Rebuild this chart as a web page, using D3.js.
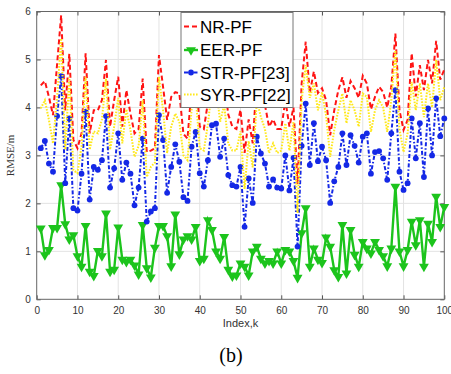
<!DOCTYPE html>
<html>
<head>
<meta charset="utf-8">
<script src="https://cdn.jsdelivr.net/npm/d3@7"></script>
<style>
  body { margin: 0; background: #fff; }
  svg { display: block; }
</style>
</head>
<body>
<div id="chart"></div>
<script>
// values, index k = 1..100
const index = d3.range(1, 101);

const nrPF = [4.46, 4.55, 4.22, 3.84, 4.90, 5.92, 3.94, 5.12, 3.32, 3.15,
  3.46, 5.13, 3.46, 3.94, 3.94, 4.15, 4.99, 3.60, 4.15, 4.64,
  3.60, 4.36, 3.87, 3.46, 3.55, 4.60, 3.07, 3.10, 3.15, 5.09,
  4.43, 3.74, 4.22, 4.32, 4.29, 3.45, 3.35, 4.40, 4.70, 3.60,
  3.55, 4.10, 4.85, 4.90, 4.20, 4.55, 3.85, 3.60, 3.55, 3.95,
  3.05, 3.75, 3.25, 4.60, 4.25, 4.05, 3.60, 3.75, 3.55, 3.55,
  4.15, 3.60, 4.00, 2.40, 4.50, 5.37, 4.30, 4.75, 4.30, 4.40,
  4.15, 3.42, 3.94, 4.36, 4.63, 4.20, 4.55, 4.40, 4.20, 4.66,
  4.50, 3.96, 4.22, 4.43, 4.32, 4.00, 4.43, 5.54, 3.94, 3.53,
  3.74, 5.13, 4.23, 4.88, 4.36, 4.99, 4.50, 5.39, 4.58, 4.79];

const eerPF = [1.48, 0.92, 1.03, 1.49, 1.49, 2.38, 1.57, 1.25, 1.34, 0.90,
  0.68, 1.53, 0.58, 0.49, 1.01, 0.90, 1.79, 0.58, 0.62, 1.50,
  0.83, 0.78, 0.83, 0.71, 0.52, 1.55, 0.65, 0.46, 1.08, 1.53,
  1.53, 1.32, 0.69, 1.77, 0.94, 1.25, 1.32, 1.25, 1.51, 0.80,
  0.85, 1.65, 1.45, 1.00, 0.85, 1.30, 0.62, 0.48, 0.50, 0.75,
  0.68, 0.50, 1.00, 1.10, 0.85, 0.75, 0.80, 0.75, 1.00, 0.75,
  1.03, 1.00, 0.80, 0.45, 1.38, 1.90, 0.68, 1.06, 0.83, 0.76,
  1.29, 1.10, 0.61, 0.47, 1.55, 0.54, 1.45, 0.93, 0.68, 1.20,
  1.06, 0.96, 1.20, 1.03, 0.90, 0.69, 1.06, 2.35, 1.00, 0.69,
  1.03, 1.62, 1.13, 1.65, 0.68, 1.58, 1.20, 2.14, 1.51, 1.93];

const strPF = [3.15, 3.30, 2.83, 2.66, 3.82, 4.65, 2.42, 3.77, 1.90, 1.85,
  2.62, 3.91, 2.08, 2.76, 2.70, 2.90, 3.82, 2.33, 2.73, 3.46,
  2.49, 2.85, 2.62, 1.96, 2.33, 3.35, 1.62, 1.83, 1.90, 3.84,
  3.32, 2.22, 2.76, 3.23, 2.87, 2.13, 2.05, 3.18, 3.49, 2.63,
  2.35, 2.90, 3.63, 3.66, 2.97, 3.35, 2.59, 2.38, 2.35, 2.76,
  1.51, 2.52, 2.01, 3.39, 3.04, 2.83, 2.35, 2.50, 2.33, 2.31,
  3.00, 2.27, 2.95, 1.10, 3.20, 4.08, 2.80, 3.67, 2.88, 3.18,
  2.90, 2.01, 2.46, 2.76, 3.46, 2.80, 3.42, 3.20, 2.85, 3.39,
  3.46, 2.62, 3.07, 3.09, 2.94, 2.49, 3.46, 4.36, 2.66, 2.28,
  2.42, 3.77, 2.94, 3.67, 2.55, 3.98, 3.00, 4.19, 3.40, 3.77];

const syrPF = [3.98, 4.15, 3.74, 3.25, 4.20, 5.44, 3.12, 4.64, 2.69, 2.63,
  3.19, 4.64, 3.12, 3.50, 3.46, 3.75, 4.60, 3.12, 3.60, 4.20,
  3.25, 3.96, 3.53, 2.97, 3.20, 4.15, 2.55, 2.76, 2.85, 4.64,
  3.94, 3.05, 3.60, 3.87, 3.70, 3.00, 2.90, 3.95, 4.25, 3.15,
  3.10, 3.65, 4.40, 4.45, 3.70, 4.05, 3.25, 3.10, 3.10, 3.50,
  2.30, 3.30, 2.75, 4.15, 3.80, 3.55, 3.05, 3.25, 3.05, 3.10,
  3.67, 3.10, 3.70, 1.80, 4.15, 4.88, 4.20, 4.50, 3.94, 4.32,
  3.83, 2.97, 3.53, 3.94, 4.29, 3.67, 4.15, 3.94, 3.60, 4.29,
  4.22, 3.49, 3.94, 4.15, 4.00, 3.49, 4.15, 5.19, 3.55, 3.07,
  3.46, 4.53, 3.94, 4.50, 3.80, 4.50, 4.00, 4.99, 4.15, 4.43];

const xTicks = d3.range(0, 101, 10);
const yTicks = d3.range(0, 7, 1);
const legendLabels = ["NR-PF", "EER-PF", "STR-PF[23]", "SYR-PF[22]"];

const width = 451, height = 374;
const plotLeft = 36.7, plotRight = 444.3, plotTop = 11.5, plotBottom = 299.3;

const colors = ["#ff1414", "#1cc41c", "#1428e6", "#ffe81a"];
const dashes = ["5,3", null, "4,2,1.5,2", "1.6,1.4"];
const widths = [2, 2.4, 2, 2];

const x = d3.scaleLinear([0, 100], [plotLeft, plotRight]);
const y = d3.scaleLinear([0, 6], [plotBottom, plotTop]);

const svg = d3.select("#chart").append("svg")
    .attr("width", width)
    .attr("height", height)
    .attr("viewBox", [0, 0, width, height])
    .attr("font-family", "'Liberation Sans', Arial, sans-serif");

// grid
svg.append("g")
    .selectAll("line")
    .data(xTicks.slice(1, -1))
    .join("line")
    .attr("x1", d => x(d)).attr("x2", d => x(d))
    .attr("y1", plotTop).attr("y2", plotBottom)
    .attr("stroke", "#e3e3e3").attr("stroke-width", 1);

svg.append("g")
    .selectAll("line")
    .data(yTicks.slice(1, -1))
    .join("line")
    .attr("x1", plotLeft).attr("x2", plotRight)
    .attr("y1", d => y(d)).attr("y2", d => y(d))
    .attr("stroke", "#e3e3e3").attr("stroke-width", 1);

// axes, ticks pointing inward like matlab
const styleAxis = g => {
  g.select(".domain").remove();
  g.selectAll(".tick line").attr("stroke", "#555");
  g.selectAll(".tick text").attr("fill", "#333").attr("font-size", 10);
};

svg.append("g")
    .attr("transform", `translate(0,${plotBottom})`)
    .call(d3.axisBottom(x).tickValues(xTicks).tickSize(-4).tickPadding(8))
    .call(styleAxis);

svg.append("g")
    .attr("transform", `translate(0,${plotTop})`)
    .call(d3.axisTop(x).tickValues(xTicks).tickSize(-4).tickFormat(""))
    .call(styleAxis);

svg.append("g")
    .attr("transform", `translate(${plotLeft},0)`)
    .call(d3.axisLeft(y).tickValues(yTicks).tickFormat(d3.format("d")).tickSize(-4).tickPadding(6))
    .call(styleAxis);

svg.append("g")
    .attr("transform", `translate(${plotRight},0)`)
    .call(d3.axisRight(y).tickValues(yTicks).tickSize(-4).tickFormat(""))
    .call(styleAxis);

svg.append("rect")
    .attr("x", plotLeft).attr("y", plotTop)
    .attr("width", plotRight - plotLeft).attr("height", plotBottom - plotTop)
    .attr("fill", "none").attr("stroke", "#666").attr("stroke-width", 1);

const line = d3.line()
    .x((d, i) => x(index[i]))
    .y(d => y(d));

const plot = svg.append("g");

plot.append("path")
    .attr("d", line(nrPF))
    .attr("fill", "none").attr("stroke", colors[0])
    .attr("stroke-width", widths[0]).attr("stroke-dasharray", dashes[0]);

plot.append("path")
    .attr("d", line(eerPF))
    .attr("fill", "none").attr("stroke", colors[1]).attr("stroke-width", widths[1]);

const tri = d3.symbol().type(d3.symbolTriangle).size(42);
plot.append("g")
    .selectAll("path")
    .data(eerPF)
    .join("path")
    .attr("d", tri)
    .attr("transform", (d, i) => `translate(${x(index[i])},${y(d)}) rotate(180)`)
    .attr("fill", colors[1]);

plot.append("path")
    .attr("d", line(strPF))
    .attr("fill", "none").attr("stroke", colors[2])
    .attr("stroke-width", widths[2]).attr("stroke-dasharray", dashes[2]);

plot.append("g")
    .selectAll("circle")
    .data(strPF)
    .join("circle")
    .attr("cx", (d, i) => x(index[i]))
    .attr("cy", d => y(d))
    .attr("r", 2.9)
    .attr("fill", colors[2]);

plot.append("path")
    .attr("d", line(syrPF))
    .attr("fill", "none").attr("stroke", colors[3])
    .attr("stroke-width", widths[3]).attr("stroke-dasharray", dashes[3]);

// legend
const lg = svg.append("g");
lg.append("rect")
    .attr("x", 181).attr("y", 12.5)
    .attr("width", 112).attr("height", 95)
    .attr("fill", "#fff").attr("stroke", "#777").attr("stroke-width", 1);

const rowY = [26.5, 50, 72.5, 94.5];
const rows = lg.selectAll("g.row")
    .data(legendLabels)
    .join("g")
    .attr("transform", (d, i) => `translate(0,${rowY[i]})`);

rows.append("line")
    .attr("x1", 184).attr("x2", 198)
    .attr("stroke", (d, i) => colors[i])
    .attr("stroke-width", (d, i) => widths[i])
    .attr("stroke-dasharray", (d, i) => dashes[i]);

rows.filter((d, i) => i === 1).append("path")
    .attr("d", tri)
    .attr("transform", "translate(191,0) rotate(180)")
    .attr("fill", colors[1]);

rows.filter((d, i) => i === 2).append("circle")
    .attr("cx", 191).attr("r", 2.9).attr("fill", colors[2]);

rows.append("text")
    .attr("x", 200).attr("dy", "0.36em")
    .attr("font-size", 17)
    .attr("fill", "#000")
    .text(d => d);

// labels
svg.append("text")
    .attr("x", (plotLeft + plotRight) / 2).attr("y", 327)
    .attr("text-anchor", "middle")
    .attr("font-size", 11).attr("fill", "#333")
    .text("Index,k");

svg.append("text")
    .attr("transform", `translate(14,${(plotTop + plotBottom) / 2}) rotate(-90)`)
    .attr("text-anchor", "middle")
    .attr("font-family", "'Liberation Serif', 'Times New Roman', serif")
    .attr("font-size", 11).attr("fill", "#333")
    .text("RMSE/m");

svg.append("text")
    .attr("x", 231).attr("y", 362)
    .attr("text-anchor", "middle")
    .attr("font-family", "'Liberation Serif', 'Times New Roman', serif")
    .attr("font-size", 20).attr("fill", "#000")
    .text("(b)");
</script>
</body>
</html>
